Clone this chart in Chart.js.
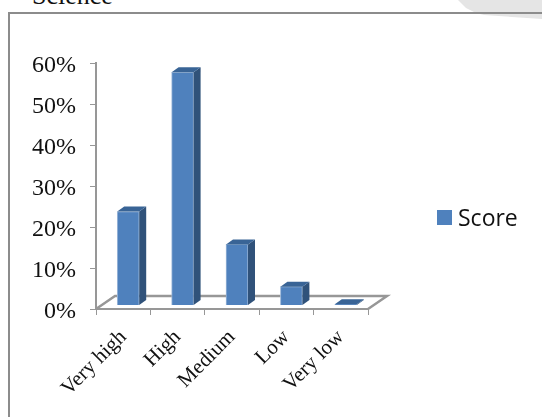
<!DOCTYPE html>
<html>
<head>
<meta charset="utf-8">
<style>
	html, body { margin: 0; background: #fff; overflow: hidden; }
	#wrap { position: relative; width: 542px; height: 417px; overflow: hidden; }
	#chart { position: absolute; left: 0; top: 0; }
	#heading {
		position: absolute; left: 32px; top: -19px;
		font: 26px "Liberation Serif", serif; color: #111;
	}
	#corner {
		position: absolute; left: 458px; top: 0; width: 84px; height: 20px; background: #e5e5e5;
		clip-path: polygon(0 0, 8px 8px, 18px 13px, 26px 15px, 84px 19px, 84px 0);
	}
	#frame {
		position: absolute; left: 8px; top: 12px; width: 600px; height: 500px;
		border-left: 2px solid #8c8c8c; border-top: 2px solid #8c8c8c;
	}
	#legend {
		position: absolute; left: 437px; top: 201px; display: flex; align-items: center;
		font: 23px "Open Sans", sans-serif; color: #111;
	}
	#legend i { width: 15px; height: 15px; margin-right: 6px; display: block; }
</style>
</head>
<body>
<div id="wrap">
	<div id="corner"></div>
	<div id="heading">Science</div>
	<div id="frame"></div>
	<canvas id="chart" width="542" height="417"></canvas>
	<div id="legend"></div>
</div>
<script src="https://cdn.jsdelivr.net/npm/chart.js@4"></script>
<script>
const categories = ["Very high", "High", "Medium", "Low", "Very low"]
const scores = [22.9, 56.9, 14.9, 4.6, 0.3]
const seriesName = "Score"

const barFront = "#4f81bd"
const barSide = "#30527a"
const barTop = "#396496"
const axisGray = "#979797"

// how far the bars sit from the axis corner, and the depth of the 3d faces
const barShift = { x: 5, y: -3.5 }
const depth = { x: 7, y: -5 }
const floorDepth = { x: 19, y: -13 }

const face = (ctx, points, color) => {
	ctx.fillStyle = color
	ctx.beginPath()
	points.forEach((p, i) => (i ? ctx.lineTo(p[0], p[1]) : ctx.moveTo(p[0], p[1])))
	ctx.closePath()
	ctx.fill()
}

const box3d = {
	id: "box3d",
	beforeDatasetsDraw(chart) {
		const { ctx, chartArea: a } = chart
		// floor of the plot
		ctx.save()
		ctx.strokeStyle = axisGray
		ctx.lineWidth = 2.5
		ctx.beginPath()
		ctx.moveTo(a.left, a.bottom)
		ctx.lineTo(a.left + floorDepth.x, a.bottom + floorDepth.y)
		ctx.lineTo(a.right + floorDepth.x, a.bottom + floorDepth.y)
		ctx.lineTo(a.right, a.bottom)
		ctx.stroke()
		ctx.restore()
		ctx.save()
		ctx.translate(barShift.x, barShift.y)
	},
	afterDatasetsDraw(chart) {
		const { ctx } = chart
		chart.getDatasetMeta(0).data.forEach((bar) => {
			const l = bar.x - bar.width / 2
			const r = bar.x + bar.width / 2
			const t = bar.y
			const b = bar.base
			face(ctx, [[r, t], [r + depth.x, t + depth.y], [r + depth.x, b + depth.y], [r, b]], barSide)
			face(ctx, [[l, t], [l + depth.x, t + depth.y], [r + depth.x, t + depth.y], [r, t]], barTop)
		})
		ctx.restore()
	},
}

new Chart(document.getElementById("chart"), {
	type: "bar",
	data: {
		labels: categories,
		datasets: [
			{
				label: seriesName,
				data: scores,
				backgroundColor: barFront,
				borderColor: "#9db8d9",
				borderWidth: 1,
				barThickness: 22,
			},
		],
	},
	plugins: [box3d],
	options: {
		responsive: false,
		animation: false,
		layout: { padding: { top: 63, right: 174, left: 0, bottom: 0 } },
		plugins: { legend: { display: false }, tooltip: { enabled: false } },
		scales: {
			x: {
				afterFit: (s) => { s.height = 108 },
				grid: { drawOnChartArea: false, color: axisGray, tickLength: 6, offset: true },
				border: { color: axisGray, width: 2 },
				ticks: {
					color: "#111",
					font: { family: "Liberation Serif", size: 21 },
					minRotation: 45,
					maxRotation: 45,
					padding: 10,
				},
			},
			y: {
				min: 0,
				max: 60,
				afterFit: (s) => { s.width = 96 },
				grid: { drawOnChartArea: false, color: axisGray, tickLength: 6 },
				border: { color: axisGray, width: 2 },
				ticks: {
					stepSize: 10,
					color: "#111",
					font: { family: "Liberation Serif", size: 24 },
					padding: 14,
					labelOffset: 3,
					callback: (v) => v + "%",
				},
			},
		},
	},
})

// legend sits in the right margin, built from the dataset
const legend = document.getElementById("legend")
const swatch = document.createElement("i")
swatch.style.background = barFront
legend.appendChild(swatch)
legend.appendChild(document.createTextNode(seriesName))
</script>
</body>
</html>
